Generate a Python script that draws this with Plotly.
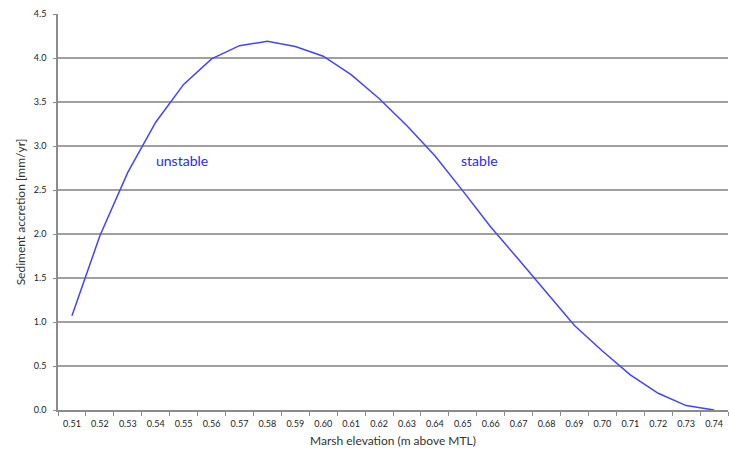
import plotly.graph_objects as go

elevation = ["0.51", "0.52", "0.53", "0.54", "0.55", "0.56", "0.57", "0.58", "0.59", "0.60",
             "0.61", "0.62", "0.63", "0.64", "0.65", "0.66", "0.67", "0.68", "0.69", "0.70",
             "0.71", "0.72", "0.73", "0.74"]
accretion = [1.07, 1.98, 2.70, 3.27, 3.70, 3.99, 4.14, 4.19, 4.13, 4.02,
             3.81, 3.54, 3.23, 2.89, 2.49, 2.08, 1.71, 1.34, 0.96, 0.67,
             0.40, 0.19, 0.05, 0.00]

font_family = "Lato, Open Sans, sans-serif"

fig = go.Figure()
fig.add_trace(go.Scatter(
    x=elevation, y=accretion, mode="lines",
    line=dict(color="#4444ff", width=1.5),
    showlegend=False, hoverinfo="skip"))

fig.add_annotation(x=3.95, y=2.84, text="unstable", showarrow=False,
                   font=dict(family=font_family, size=14, color="#2a2aff"))
fig.add_annotation(x=14.6, y=2.84, text="stable", showarrow=False,
                   font=dict(family=font_family, size=14, color="#2a2aff"))

fig.update_layout(
    width=730, height=455,
    margin=dict(l=58, r=2, t=14, b=45),
    paper_bgcolor="white", plot_bgcolor="white",
    font=dict(family=font_family, color="#333333"),
    xaxis=dict(
        type="category", range=[-0.5, len(elevation) - 0.5],
        showgrid=False, showline=True, linecolor="#8c8c8c", linewidth=1.5,
        ticks="outside", tickson="boundaries", ticklen=4, tickcolor="#8c8c8c",
        ticklabelstandoff=4,
        tickfont=dict(size=9, color="#222222"),
        title=dict(text="Marsh elevation (m above MTL)", font=dict(size=12, color="#333333"), standoff=9),
        zeroline=False,
    ),
    yaxis=dict(
        range=[0, 4.5], dtick=0.5, tickformat=".1f",
        showgrid=True, gridcolor="#a0a0a0", gridwidth=1.5,
        showline=True, linecolor="#8c8c8c", linewidth=1.5,
        ticks="outside", ticklen=3, tickcolor="#8c8c8c",
        ticklabelstandoff=5,
        tickfont=dict(size=9, color="#222222"),
        title=dict(text="Sediment accretion [mm/yr]", font=dict(size=12, color="#333333"), standoff=6),
        zeroline=False,
    ),
)

fig.write_html("out.html")
